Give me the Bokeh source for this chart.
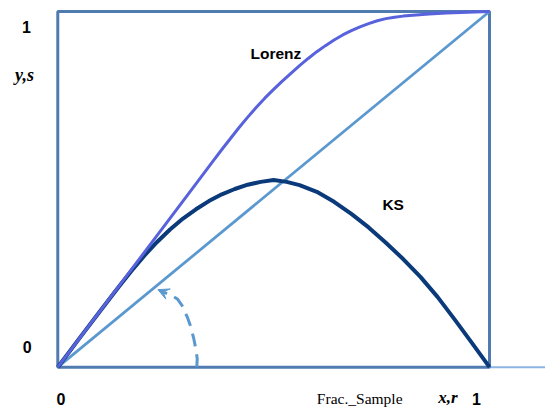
from bokeh.plotting import figure
from bokeh.models import Range1d, Arrow, VeeHead
from bokeh.core.properties import value
from bokeh.embed import file_html
from bokeh.resources import INLINE

# ---- data ----
lorenz_x = [0.0, 0.10, 0.20, 0.30, 0.36, 0.38, 0.40, 0.42, 0.44, 0.46, 0.48, 0.50, 0.52, 0.54, 0.56, 0.58,
            0.60, 0.62, 0.64, 0.66, 0.68, 0.70, 0.72, 0.74, 0.76, 0.78, 0.80, 0.83, 0.86, 0.90, 0.95, 1.0]
lorenz_y = [0.0, 0.161, 0.322, 0.483, 0.580, 0.612, 0.643, 0.674, 0.703, 0.731, 0.757, 0.781, 0.804, 0.826, 0.848, 0.868,
            0.887, 0.904, 0.920, 0.934, 0.946, 0.957, 0.966, 0.974, 0.980, 0.984, 0.987, 0.990, 0.993, 0.996, 0.998, 1.0]

ks_x = [0.0, 0.05, 0.10, 0.14, 0.17, 0.20, 0.23, 0.26, 0.29, 0.32, 0.35, 0.38, 0.41, 0.44, 0.47, 0.50,
        0.53, 0.56, 0.60, 0.64, 0.68, 0.72, 0.76, 0.80, 0.84, 0.88, 0.92, 0.96, 1.0]
ks_y = [0.0, 0.081, 0.161, 0.224, 0.270, 0.313, 0.352, 0.387, 0.418, 0.444, 0.467, 0.486, 0.501, 0.513, 0.521, 0.526,
        0.521, 0.512, 0.493, 0.465, 0.431, 0.393, 0.350, 0.304, 0.254, 0.197, 0.133, 0.067, 0.0]

diag_x = [0.0, 1.0]
diag_y = [0.0, 1.0]

arc_x = [0.322, 0.323, 0.319, 0.315, 0.307, 0.300, 0.288, 0.277, 0.265, 0.253]
arc_y = [0.0, 0.024, 0.056, 0.080, 0.117, 0.141, 0.173, 0.192, 0.201, 0.207]
arrow_tip = (0.232, 0.218)

y_tick_labels = ["0", "1"]
x_tick_labels = ["0", "1"]
x_axis_title = "Frac._Sample"
x_axis_vars = "x,r"
y_axis_vars = "y,s"
curve_labels = ["Lorenz", "KS"]

# ---- figure ----
W, H = 545, 407
p = figure(width=W, height=H, output_backend="svg", toolbar_location=None,
           x_range=Range1d(-0.1327, 1.1297), y_range=Range1d(-0.1133, 1.0309),
           x_axis_location=None, y_axis_location=None, min_border=0)
p.grid.visible = False
p.outline_line_color = None
p.background_fill_color = "white"
p.border_fill_color = "white"

BOX = "#4f7bb0"
DIAG = "#5b98cf"
LOR = "#5862dc"
KSC = "#0b3a7a"

# extension of bottom axis
p.line([1.0, 1.2], [0.0, 0.0], line_color="#8db4e2", line_width=2)
# box
p.quad(left=[0.0], right=[1.0], bottom=[0.0], top=[1.0], fill_color=None,
       line_color=BOX, line_width=3)
# diagonal
p.line(diag_x, diag_y, line_color=DIAG, line_width=2.8)
# KS curve
p.line(ks_x, ks_y, line_color=KSC, line_width=4, line_join="round")
# Lorenz curve
p.line(lorenz_x, lorenz_y, line_color=LOR, line_width=3, line_join="round")
# dashed arc with arrow
p.line(arc_x, arc_y, line_color=DIAG, line_width=3, line_dash="13 8")
p.add_layout(Arrow(end=VeeHead(size=11, fill_color=DIAG, line_color=DIAG, line_width=1),
                   x_start=arc_x[-1], y_start=arc_y[-1],
                   x_end=arrow_tip[0], y_end=arrow_tip[1],
                   line_color=DIAG, line_width=3))

sans = value("Liberation Sans")
serif = value("Liberation Serif")

BOTTOM_Y = -0.088

# y tick labels
p.text(x=[-0.0709, -0.0725], y=[0.0554, 0.9559], text=y_tick_labels,
       text_font=sans, text_font_style="bold", text_font_size="16px",
       text_align="center", text_baseline="alphabetic", text_color="black")
# x tick labels
p.text(x=[0.0074, 0.9699], y=[BOTTOM_Y, BOTTOM_Y], text=x_tick_labels,
       text_font=sans, text_font_style="bold", text_font_size="16px",
       text_align="center", text_baseline="alphabetic", text_color="black")
# axis words
p.text(x=[0.6993], y=[BOTTOM_Y], text=[x_axis_title], text_font=serif,
       text_font_size="15.5px", text_align="center", text_baseline="alphabetic",
       text_color="black")
p.text(x=[0.9039], y=[-0.084], text=[x_axis_vars], text_font=serif,
       text_font_style="bold italic", text_font_size="17px", text_align="center",
       text_baseline="alphabetic", text_color="black")
p.text(x=[-0.0771], y=[0.8226], text=[y_axis_vars], text_font=serif,
       text_font_style="bold italic", text_font_size="18px", text_align="center",
       text_baseline="alphabetic", text_color="black")
# curve labels
p.text(x=[0.5052, 0.7769], y=[0.881, 0.4574], text=curve_labels, text_font=sans,
       text_font_style="bold", text_font_size="15.5px", text_align="center",
       text_baseline="alphabetic", text_color="black")

open("out.html", "w").write(file_html(p, INLINE))
